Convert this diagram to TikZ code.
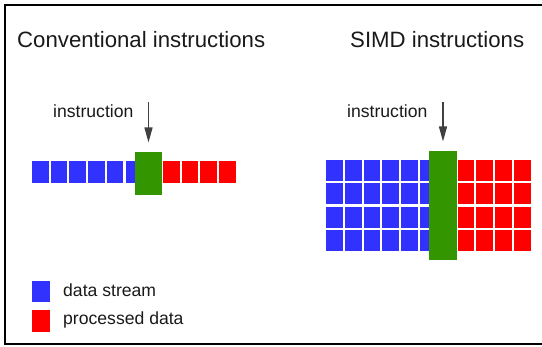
\documentclass[tikz,border=0pt]{standalone}
\usepackage{fontspec}
\setmainfont{Liberation Sans}
\usetikzlibrary{arrows.meta}
\definecolor{datablue}{RGB}{50,50,255}
\definecolor{procred}{RGB}{255,0,0}
\definecolor{instgreen}{RGB}{51,150,0}
\definecolor{inktext}{RGB}{25,25,25}
\begin{document}
\begin{tikzpicture}[x=1pt, y=-1pt,
  cell/.style={inner sep=0pt, outer sep=0pt, minimum width=16.6pt, minimum height=22pt},
  bluecell/.style={cell, fill=datablue},
  redcell/.style={cell, fill=procred},
  instbox/.style={inner sep=0pt, outer sep=0pt, fill=instgreen},
  title/.style={anchor=base west, inner sep=0pt, text=inktext, font=\fontsize{22.2}{26}\selectfont},
  label/.style={anchor=base west, inner sep=0pt, text=inktext, font=\fontsize{17.6}{21}\selectfont},
  instarrow/.style={-{Triangle[length=15pt,width=8pt]}, line width=1.3pt, draw=black!75, shorten >=9.5pt}]
\useasboundingbox (0,0) rectangle (542,347);
\draw[line width=1.7pt] (543,5) -- (5,5) -- (5,344) -- (543,344);
% titles
\node[title] (tconv) at (17,48) {Conventional instructions};
\node[title] (tsimd) at (350,48) {SIMD instructions};
% conventional: one stream
\foreach \i in {0,...,6}
  \node[bluecell] (lb\i) at ({40.3+18.7*\i},172) {};
\foreach \i in {7,...,10}
  \node[redcell] (lr\i) at ({40.3+18.7*\i},172) {};
\node[instbox, minimum width=27pt, minimum height=43pt] (lgreen) at (148.5,173.5) {};
\node[label] (lins) at (53,118) {instruction};
\coordinate (ltop) at (148.5,102);
\draw[instarrow] (ltop) -- (lgreen);
% SIMD: four streams
\foreach \r in {0,...,3} {
  \foreach \c in {0,...,6}
    \node[bluecell, minimum width=16.8pt, minimum height=21pt] (rb\r\c) at ({334.4+18.8*\c},{170.5+23.3*\r}) {};
  \foreach \c in {7,...,10}
    \node[redcell, minimum width=16.8pt, minimum height=21pt] (rr\r\c) at ({334.4+18.8*\c},{170.5+23.3*\r}) {};
}
\node[instbox, minimum width=28pt, minimum height=109pt] (rgreen) at (443,205.5) {};
\node[label] (rins) at (347,118) {instruction};
\coordinate (rtop) at (443,102);
\draw[instarrow] (rtop) -- (rgreen);
% legend
\node[bluecell, minimum width=18pt, minimum height=21pt] (kblue) at (41,291.5) {};
\node[redcell, minimum width=18pt, minimum height=22pt] (kred) at (41,321) {};
\node[label] (kbluetxt) at (63,297) {data stream};
\node[label] (kredtxt) at (63,325) {processed data};
\end{tikzpicture}
\end{document}
